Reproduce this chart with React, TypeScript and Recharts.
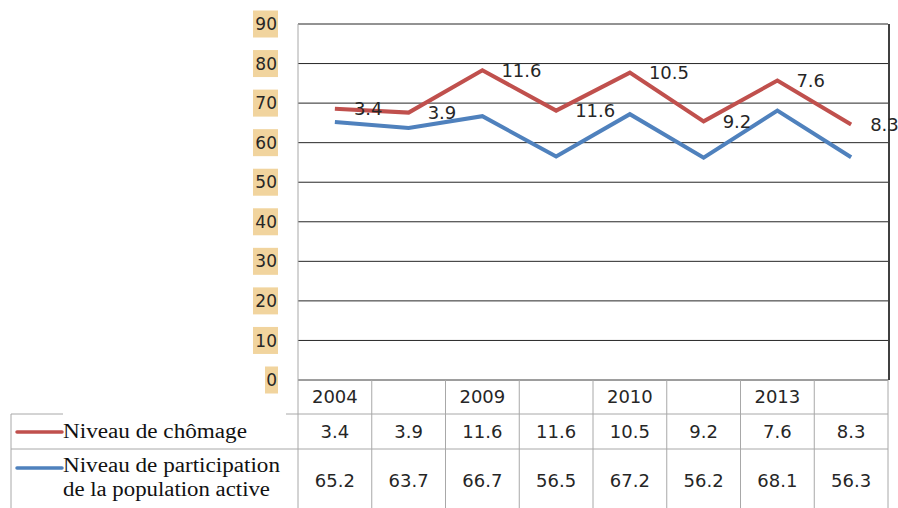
import { AreaChart, Area, XAxis, YAxis, CartesianGrid, LabelList, Customized } from 'recharts'

const years = ['2004', '', '2009', '', '2010', '', '2013', '']
const chomage = [3.4, 3.9, 11.6, 11.6, 10.5, 9.2, 7.6, 8.3]
const participation = [65.2, 63.7, 66.7, 56.5, 67.2, 56.2, 68.1, 56.3]
const yTicks = [0, 10, 20, 30, 40, 50, 60, 70, 80, 90]

const data = years.map((year, i) => ({ year, chomage: chomage[i], participation: participation[i] }))

const RED = '#C0504D'
const BLUE = '#4F81BD'
const TABLE = '#a8a8a8'
const TEXT = '#262626'
const SANS = '"DejaVu Sans", sans-serif'
const SERIF = '"Liberation Serif", serif'

const PLOT_LEFT = 298
const PLOT_RIGHT = 888
const PLOT_TOP = 24
const PLOT_BOTTOM = 380
const BAND = (PLOT_RIGHT - PLOT_LEFT) / years.length
const ROW1 = 414
const ROW2 = 449
const BOTTOM = 508

function BoxTick(props: any) {
  const { y, payload } = props
  const label = String(payload.value)
  const w = label.length * 12 + 1
  return (
    <g>
      <rect x={278 - w} y={y - 13.5} width={w} height={27} fill="#F1D49E" />
      <text x={277} y={y} dy="0.36em" textAnchor="end" fontSize={17} fontFamily={SANS} fill={TEXT}>
        {label}
      </text>
    </g>
  )
}

function TableTick(props: any) {
  const { x, index } = props
  const i = props.payload?.index ?? index
  const half = BAND / 2
  const cell = { textAnchor: 'middle' as const, fontSize: 18, fontFamily: SANS, fill: TEXT }
  return (
    <g>
      {i === 0 && <line x1={x - half} x2={x - half} y1={PLOT_BOTTOM} y2={BOTTOM} stroke={TABLE} />}
      <line x1={x + half} x2={x + half} y1={PLOT_BOTTOM} y2={BOTTOM} stroke={TABLE} />
      <text x={x} y={397} dy="0.36em" {...cell}>{years[i]}</text>
      <text x={x} y={432} dy="0.36em" {...cell}>{chomage[i]}</text>
      <text x={x} y={481} dy="0.36em" {...cell}>{participation[i]}</text>
    </g>
  )
}

function RightLabel(props: any) {
  const { x, y, value } = props
  return (
    <text x={x + 19} y={y} dy="0.36em" fontSize={18} fontFamily={SANS} fill={TEXT}>
      {value}
    </text>
  )
}

function TableFrame() {
  const legend = { fontSize: 20, fontFamily: SERIF, fill: '#111', lengthAdjust: 'spacingAndGlyphs' as const }
  return (
    <g>
      <line x1={PLOT_RIGHT + 1} x2={PLOT_RIGHT + 1} y1={PLOT_TOP} y2={PLOT_BOTTOM} stroke="#000" strokeWidth={1.5} />
      <line x1={11} x2={63} y1={ROW1} y2={ROW1} stroke={TABLE} />
      <line x1={286} x2={PLOT_RIGHT} y1={ROW1} y2={ROW1} stroke={TABLE} />
      <line x1={11} x2={PLOT_RIGHT} y1={ROW2} y2={ROW2} stroke={TABLE} />
      <line x1={11} x2={11} y1={ROW1} y2={BOTTOM} stroke={TABLE} />
      <line x1={17} x2={62} y1={432} y2={432} stroke={RED} strokeWidth={3.5} strokeLinecap="round" />
      <line x1={17} x2={62} y1={468} y2={468} stroke={BLUE} strokeWidth={3.5} strokeLinecap="round" />
      <text x={63} y={438} textLength={184} {...legend}>Niveau de chômage</text>
      <text x={63} y={472} textLength={217} {...legend}>Niveau de participation</text>
      <text x={63} y={496} textLength={207} {...legend}>de la population active</text>
    </g>
  )
}

export default function App() {
  return (
    <div style={{ position: 'absolute', left: 0, top: 0, width: 898, height: 508, background: '#fff' }}>
      <AreaChart
        width={898}
        height={508}
        data={data}
        margin={{ top: PLOT_TOP, right: 898 - PLOT_RIGHT, left: 250, bottom: 0 }}
      >
        <CartesianGrid vertical={false} stroke="#262626" />
        <XAxis
          height={BOTTOM - PLOT_BOTTOM}
          interval={0}
          padding={{ left: BAND / 2, right: BAND / 2 }}
          axisLine={{ stroke: TABLE }}
          tickLine={false}
          tick={<TableTick />}
        />
        <YAxis
          width={PLOT_LEFT - 250}
          domain={[0, 90]}
          ticks={yTicks}
          interval={0}
          axisLine={{ stroke: TABLE }}
          tickLine={false}
          tick={<BoxTick />}
        />
        <Area
          type="linear"
          dataKey="participation"
          stackId="a"
          stroke={BLUE}
          strokeWidth={4}
          fill="none"
          dot={false}
          activeDot={false}
          isAnimationActive={false}
        />
        <Area
          type="linear"
          dataKey="chomage"
          stackId="a"
          stroke={RED}
          strokeWidth={4}
          fill="none"
          dot={false}
          activeDot={false}
          isAnimationActive={false}
        >
          <LabelList dataKey="chomage" content={<RightLabel />} />
        </Area>
        <Customized component={<TableFrame />} />
      </AreaChart>
    </div>
  )
}
